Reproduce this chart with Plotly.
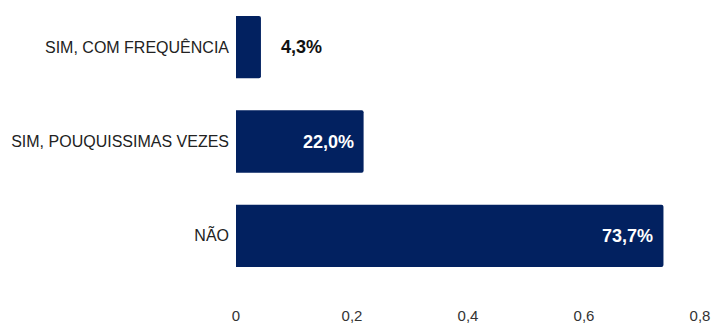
import plotly.graph_objects as go

# Survey answers and their shares
categories = ["SIM, COM FREQUÊNCIA", "SIM, POUQUISSIMAS VEZES", "NÃO"]
shares = [0.043, 0.220, 0.737]
label_inside = [False, True, True]

x_ticks = [0, 0.2, 0.4, 0.6, 0.8]
x_tick_text = ["0", "0,2", "0,4", "0,6", "0,8"]

bar_color = "#022160"


def pct(v):
    return f"{v * 100:.1f}%".replace(".", ",")


fig = go.Figure(
    go.Bar(
        x=shares,
        y=categories,
        orientation="h",
        marker=dict(color=bar_color, line=dict(width=0)),
        hoverinfo="skip",
    )
)

# Value labels: white inside long bars, dark just past short ones
annotations = []
for cat, v, inside in zip(categories, shares, label_inside):
    annotations.append(
        dict(
            x=v,
            y=cat,
            xref="x",
            yref="y",
            text=f"<b>{pct(v)}</b>",
            showarrow=False,
            xanchor="right" if inside else "left",
            xshift=-8 if inside else 18,
            font=dict(family="Liberation Sans, Arial, sans-serif", size=18,
                      color="#ffffff" if inside else "#111111"),
        )
    )

fig.update_layout(
    width=713,
    height=324,
    margin=dict(l=236, r=13, t=0, b=33),
    paper_bgcolor="white",
    plot_bgcolor="white",
    showlegend=False,
    bargap=0.34,
    barcornerradius=2,
    font=dict(family="Liberation Sans, Arial, sans-serif", size=16, color="#222222"),
    annotations=annotations,
    xaxis=dict(
        range=[0, 0.8],
        tickvals=x_ticks,
        ticktext=x_tick_text,
        showgrid=False,
        zeroline=False,
        showline=False,
        ticks="",
        ticklabelstandoff=22,
        tickfont=dict(size=15, color="#333333"),
    ),
    yaxis=dict(
        autorange="reversed",
        showgrid=False,
        zeroline=False,
        showline=False,
        ticks="",
        ticklabelstandoff=6,
        tickfont=dict(size=16, color="#222222"),
    ),
)

fig.write_html("out.html")
